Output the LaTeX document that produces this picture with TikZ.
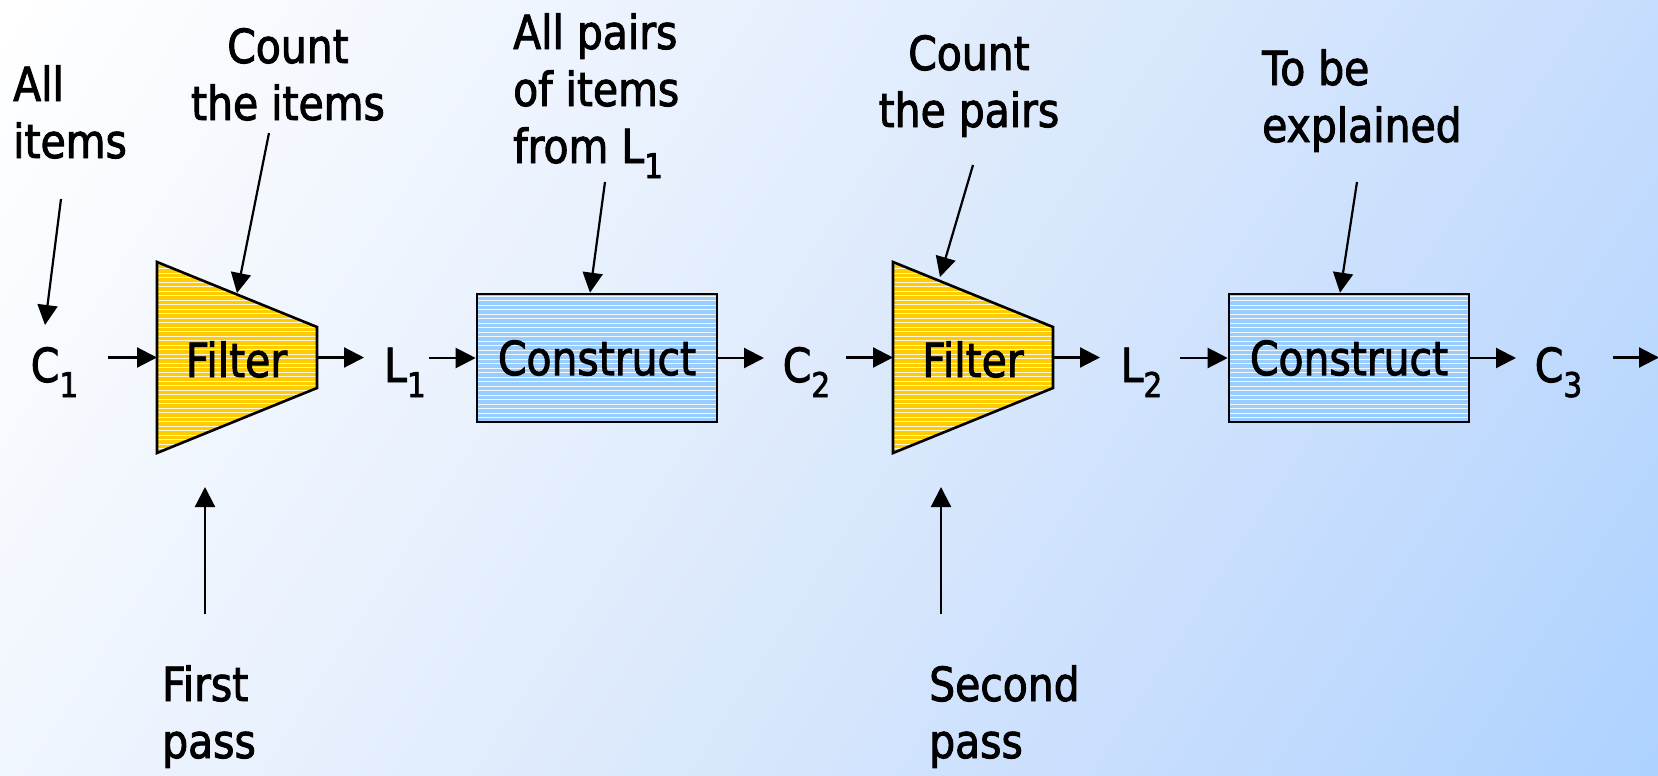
\documentclass[tikz,border=0pt]{standalone}
\usepackage{fontspec}
\setmainfont{DejaVu Sans}[FakeStretch=0.87,FakeBold=2]
\usetikzlibrary{arrows.meta}
\definecolor{bgA}{HTML}{AED2FF}
\definecolor{bgB}{HTML}{C8DEFD}
\definecolor{bgC}{HTML}{DDEAFC}
\definecolor{bgD}{HTML}{EFF5FE}
\definecolor{bgE}{HTML}{FFFFFF}
\definecolor{filteryellow}{HTML}{FFCC00}
\definecolor{constblue}{HTML}{99CCFF}
\pgfdeclareverticalshading{bgshade}{100bp}{color(0bp)=(bgA); color(15.5bp)=(bgA); color(32.7bp)=(bgB); color(50bp)=(bgC); color(67.3bp)=(bgD); color(84.5bp)=(bgE); color(100bp)=(bgE)}
\newcommand\mysub[1]{\raisebox{-15pt}{\fontsize{34}{34}\selectfont #1}}
\begin{document}
\begin{tikzpicture}[x=1pt,y=1pt,
  txt/.style={font=\fontsize{47}{57}\selectfont, inner sep=0pt, text=black},
  arr/.style={line width=2.2pt, -{Triangle[length=20pt,width=20pt]}},
  hatch/.style={path picture={\foreach \i in {0,...,50}{\draw[white, line width=1pt, opacity=0.85] ([yshift=\i*4.5pt]path picture bounding box.south west) -- ([yshift=\i*4.5pt]path picture bounding box.south east);}}},
  filtershape/.style={draw=black, line width=2.6pt, fill=filteryellow, hatch},
  constbox/.style={txt, draw=black, line width=2.6pt, fill=constblue, hatch, minimum width=240pt, minimum height=128pt}
]
% background
\shade[shading=bgshade, shading angle=57] (0,0) rectangle (1658,-776);
\useasboundingbox (0,0) rectangle (1658,-776);

% filters
\path[filtershape] (157,-262) -- (317,-327) -- (317,-388) -- (157,-453) -- cycle;
\coordinate (f1w) at (157,-357.5);
\coordinate (f1e) at (317,-357.5);
\coordinate (f1n) at (237,-293);
\node[txt, anchor=base] (f1) at (236.5,-377) {Filter};

\path[filtershape] (893,-262) -- (1053,-327) -- (1053,-388) -- (893,-453) -- cycle;
\coordinate (f2w) at (893,-357.5);
\coordinate (f2e) at (1053,-357.5);
\coordinate (f2n) at (940,-277);
\node[txt, anchor=base] (f2) at (973,-377) {Filter};

% construct boxes
\node[constbox] (k1) at (597,-358) {Construct};
\node[constbox] (k2) at (1349,-358) {Construct};

% sets
\node[txt, anchor=base] (c1) at (54.5,-382) {C\mysub{1}};
\node[txt, anchor=base] (l1) at (405,-382) {L\mysub{1}};
\node[txt, anchor=base] (c2) at (806.5,-382) {C\mysub{2}};
\node[txt, anchor=base] (l2) at (1141.5,-382) {L\mysub{2}};
\node[txt, anchor=base] (c3) at (1558.5,-382) {C\mysub{3}};
\coordinate (out) at (1659,-357.5);

% labels (base anchor = baseline of last line)
\node[txt, anchor=base west, align=left] (allitems) at (13,-158) {All\\items};
\node[txt, anchor=base, align=center] (countitems) at (288,-120) {Count\\the items};
\node[txt, anchor=base west, align=left] (allpairs) at (513,-163) {All pairs\\of items\\from L\mysub{1}};
\node[txt, anchor=base, align=center] (countpairs) at (969,-127) {Count\\the pairs};
\node[txt, anchor=base west, align=left] (tobe) at (1262,-142) {To be\\explained};
\node[txt, anchor=base west, align=left] (firstpass) at (162,-758) {First\\pass};
\node[txt, anchor=base west, align=left] (secondpass) at (929,-758) {Second\\pass};

% main flow
\draw[arr, shorten <=53.5pt] (c1 |- f1w) -- (f1w);
\draw[arr, shorten >=41pt] (f1e) -- (l1 |- f1e);
\draw[arr, shorten <=24pt] (l1 |- k1.west) -- (k1.west);
\draw[arr, shorten >=42.5pt] (k1.east) -- (c2 |- k1.east);
\draw[arr, shorten <=39.5pt] (c2 |- f2w) -- (f2w);
\draw[arr, shorten >=41.5pt] (f2e) -- (l2 |- f2e);
\draw[arr, shorten <=38.5pt] (l2 |- k2.west) -- (k2.west);
\draw[arr, shorten >=42.5pt] (k2.east) -- (c3 |- k2.east);
\draw[arr, shorten <=54.5pt] (c3 |- out) -- (out);

% label arrows
\coordinate (t1) at (61,-199);
\coordinate (h1) at (45,-325);
\draw[arr] (t1) -- (h1);
\coordinate (t2) at (269,-133);
\draw[arr] (t2) -- (f1n);
\coordinate (t3) at (605,-182);
\draw[arr] (t3) -- ([xshift=-7pt]k1.north);
\coordinate (t4) at (973,-165);
\draw[arr] (t4) -- (f2n);
\coordinate (t5) at (1357,-182);
\draw[arr] (t5) -- ([xshift=-9pt]k2.north);
\coordinate (t6) at (205,-614);
\coordinate (h6) at (205,-487);
\draw[arr] (t6) -- (h6);
\coordinate (t7) at (941,-614);
\coordinate (h7) at (941,-487);
\draw[arr] (t7) -- (h7);
\end{tikzpicture}
\end{document}
